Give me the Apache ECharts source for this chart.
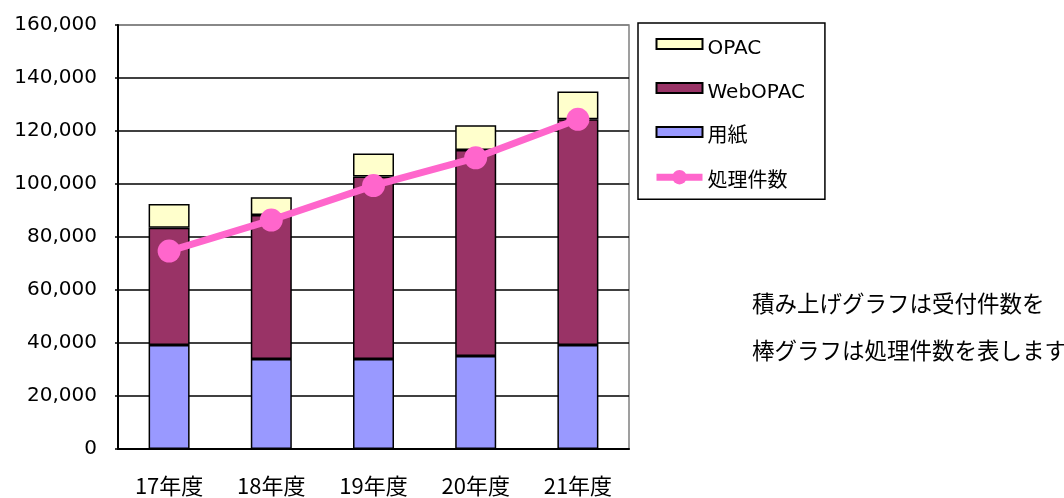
<!DOCTYPE html>
<html>
<head>
<meta charset="utf-8">
<script src="https://cdn.jsdelivr.net/npm/echarts@6/dist/echarts.min.js"></script>
<style>
    html, body { margin: 0; padding: 0; background: #fff; }
    #main { width: 1064px; height: 498px; }
</style>
</head>
<body>
<div id="main"></div>
<script>
// 年度ごとの件数
var years = ['17年度', '18年度', '19年度', '20年度', '21年度'];
var paper = [39200, 34000, 34000, 35100, 39200];       // 用紙
var webopac = [44300, 54300, 68800, 77700, 85200];     // WebOPAC
var opac = [9000, 6700, 8700, 9400, 10500];            // OPAC
var processed = [74700, 86400, 99400, 109900, 124400]; // 処理件数
var note = ['積み上げグラフは受付件数を', '棒グラフは処理件数を表します'];

var latin = 'DejaVu Sans, Noto Sans CJK JP, sans-serif';
var jp = 'Noto Sans CJK JP, sans-serif';
var barIcon = 'path://M0,0H46V10H0Z';

function comma(v) {
    return String(v).replace(/\B(?=(\d{3})+(?!\d))/g, ',');
}

var option = {
    animation: false,
    backgroundColor: '#fff',
    grid: {
        left: 118, right: 435, top: 25, bottom: 49,
        show: true, borderColor: '#808080', borderWidth: 1.5
    },
    legend: {
        orient: 'vertical',
        left: 638, top: 23,
        padding: [15, 20, 7, 15],
        itemWidth: 46, itemHeight: 18, itemGap: 23,
        borderColor: '#000', borderWidth: 1.5,
        formatter: '{t|{name}}',
        textStyle: {
            color: '#000',
            rich: { t: { fontFamily: latin, fontSize: 20, color: '#000', padding: [10, 0, 0, 0] } }
        },
        data: [
            { name: 'OPAC', icon: barIcon },
            { name: 'WebOPAC', icon: barIcon },
            { name: '用紙', icon: barIcon },
            { name: '処理件数', lineStyle: { width: 7 } }
        ]
    },
    xAxis: {
        type: 'category',
        data: years,
        axisLine: { lineStyle: { color: '#000', width: 2 } },
        axisTick: { inside: true, length: 5, lineStyle: { color: '#000', width: 1.5 } },
        axisLabel: { fontFamily: jp, fontSize: 22, color: '#000', margin: 26 },
        splitLine: { show: false }
    },
    yAxis: {
        type: 'value',
        min: 0, max: 160000, interval: 20000,
        axisLine: { show: true, lineStyle: { color: '#000', width: 2 } },
        axisTick: { show: true, length: 3, lineStyle: { color: '#000', width: 1.5 } },
        axisLabel: { fontFamily: latin, fontSize: 20, color: '#000', margin: 21, formatter: comma },
        splitLine: {
            lineStyle: {
                width: 1.5,
                color: ['#000', '#000', '#000', '#000', '#000', '#000', '#000', '#000', '#808080']
            }
        }
    },
    series: [
        {
            name: '用紙', type: 'bar', stack: 'total', barWidth: 41,
            itemStyle: { color: '#9999FF', borderColor: '#000', borderWidth: 1.5 },
            data: paper
        },
        {
            name: 'WebOPAC', type: 'bar', stack: 'total', barWidth: 41,
            itemStyle: { color: '#993366', borderColor: '#000', borderWidth: 1.5 },
            data: webopac
        },
        {
            name: 'OPAC', type: 'bar', stack: 'total', barWidth: 41,
            itemStyle: { color: '#FFFFCC', borderColor: '#000', borderWidth: 1.5 },
            data: opac
        },
        {
            name: '処理件数', type: 'line',
            symbol: 'circle', symbolSize: 23,
            lineStyle: { color: '#FF66CC', width: 7 },
            itemStyle: { color: '#FF66CC' },
            z: 5,
            data: processed
        }
    ],
    graphic: [
        {
            type: 'text', left: 752, top: 280,
            style: {
                text: note.join('\n'),
                fontFamily: jp, fontSize: 22.5, lineHeight: 47, fill: '#000'
            }
        }
    ]
};

var chart = echarts.init(document.getElementById('main'));
chart.setOption(option);
</script>
</body>
</html>
